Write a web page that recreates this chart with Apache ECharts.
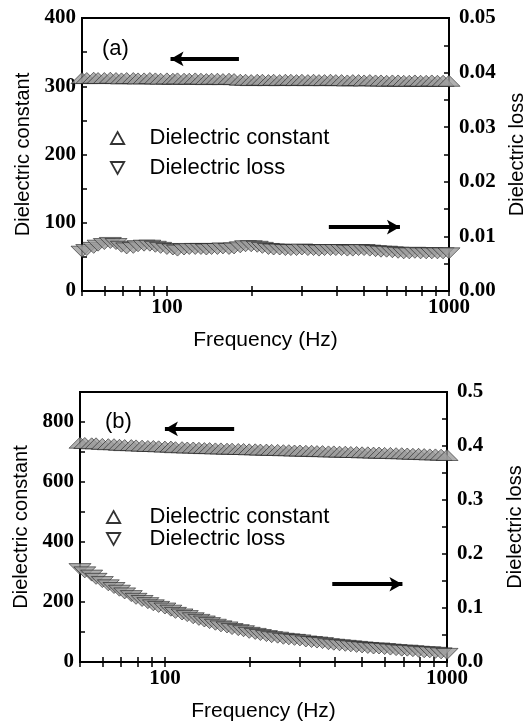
<!DOCTYPE html>
<html><head><meta charset="utf-8">
<script src="https://cdn.jsdelivr.net/npm/echarts@6/dist/echarts.min.js"></script>
<style>html,body{margin:0;padding:0;background:#fff}#c{width:526px;height:721px}</style>
</head><body><div id="c"></div>
<script>
const freq = [50,52,55,57,60,63,66,69,72,76,79,83,87,91,95,100,105,109,115,120,126,132,138,144,151,158,166,173,182,190,199,209,218,229,239,251,263,275,288,301,316,331,346,362,380,397,416,436,456,478,500,524,549,574,601,630,660,691,723,757,793,830,869,910,953,1000];
const epsA = [312,312,312.5,312,312,312.5,312,311.5,312,312,311.5,
  311.5,312,311.5,311,311.5,311,311.5,311,311,311.5,311,310.5,311,311,310.5,311,310.5,
  309.5,309.5,309,309.5,309.5,309,309.5,309,309.5,309.5,309,309.5,309,309.5,309,309,309.5,309,
  309,308.5,309,309,308.5,309,308.5,308.5,308,308.5,308.5,308,308,308.5,308,308,308.5,308,308,308];
const lossA = [0.0072,0.0075,0.0079,0.0083,0.0086,0.0088,0.0086,0.0081,0.0078,0.0079,0.0082,0.0083,0.0083,0.0081,0.0079,0.0077,
  0.0076,0.0074,0.0076,0.0077,0.0077,0.0077,0.0076,0.0077,0.0077,0.0078,0.0077,0.0078,0.0080,0.0082,0.0082,0.0081,0.0079,0.0077,
  0.0076,0.0076,0.0075,0.0075,0.0075,0.0076,0.0075,0.0075,0.0074,0.0075,0.0075,0.0075,0.0075,0.0074,0.0074,0.0075,0.0075,0.0074,
  0.0073,0.0072,0.0072,0.0071,0.0070,0.0069,0.0069,0.0070,0.0069,0.0069,0.0069,0.0069,0.0069,0.0069];
const epsB = [731,730,729,729,727,726,726,724,723,723,722,721,720,720,719,718,718,716,716,715,715,714,713,713,712,712,711,711,
  710,710,709,709,708,708,707,707,706,706,705,705,704,704,703,703,702,702,701,701,700,700,699,699,698,698,697,697,696,696,
  695,694,694,693,692,692,691,690];
const lossB = [0.172,0.166,0.160,0.154,0.148,0.142,0.137,0.132,0.127,0.122,0.117,0.113,0.109,0.105,0.102,0.099,
  0.095,0.091,0.088,0.085,0.081,0.078,0.075,0.072,0.069,0.066,0.064,0.061,0.059,0.057,0.054,
  0.052,0.050,0.048,0.046,0.045,0.043,0.042,0.041,0.040,
  0.038,0.037,0.036,0.035,0.033,0.032,0.031,0.030,0.029,0.028,0.027,0.026,0.025,0.025,0.024,0.023,0.022,0.021,0.021,0.020,0.019,0.018,0.018,0.017,0.016,0.015];
const xLabelValues = [100, 1000];
const xTickValues = [50,60,70,80,90,100,200,300,400,500,600,700,800,900,1000];
const seriesNames = ['Dielectric constant', 'Dielectric loss'];
const xName = 'Frequency (Hz)';
const yLeftName = 'Dielectric constant';
const yRightName = 'Dielectric loss';
const panelLabels = ['(a)', '(b)'];

const SERIF = '"Liberation Serif", "Times New Roman", serif';
const SANS = '"Liberation Sans", Arial, sans-serif';
const DOWN = 'path://M0,0L10,0L5,9Z';
const UP = 'path://M5,0L10,9L0,9Z';

function pairs(vals){ return freq.map((f,i)=>[f, vals[i]]); }

function xAxisDef(grid, top){
  return {
    type:'log', logBase:10, gridIndex:grid, min:50, max:1000, position: top?'top':'bottom',
    name: top? '' : xName, nameLocation:'middle', nameGap:39,
    nameTextStyle:{fontFamily:SANS, fontSize:21, color:'#000'},
    axisLine:{show:true, lineStyle:{color:'#000', width:2}},
    axisTick:{show:true, inside:true, length:5, customValues:xTickValues, lineStyle:{color:'#000', width:1.5}},
    minorTick:{show:false},
    axisLabel:{show:!top, customValues:xLabelValues, margin:6, fontFamily:SERIF, fontSize:21, fontWeight:'bold', color:'#000',
      formatter:v=>String(Math.round(v))},
    splitLine:{show:false}
  };
}
function yAxisDef(grid, right, max, interval, labelEvery, decimals, name){
  return {
    type:'value', gridIndex:grid, position: right?'right':'left', min:0, max:max, interval:interval,
    name:name, nameLocation:'middle', nameRotate:90, nameGap: right?58:48,
    nameTextStyle:{fontFamily:SANS, fontSize:20, color:'#000'},
    axisLine:{show:true, lineStyle:{color:'#000', width:2}},
    axisTick:{show:true, inside:true, length:5, lineStyle:{color:'#000', width:1.5}},
    axisLabel:{margin: right?10:6, fontFamily:SERIF, fontSize:21, fontWeight:'bold', color:'#000',
      formatter:v=>{ const k=Math.round(v/interval); const m=Math.round(labelEvery/interval); return (k % m===0)? v.toFixed(decimals) : ''; }},
    splitLine:{show:false}
  };
}
function legendDef(left, top, gap, textPad){
  return {
    orient:'vertical', left:left, top:top, padding:0, itemWidth:14, itemHeight:12, itemGap:gap,
    itemStyle:{color:'#fff', borderColor:'#000', borderWidth:1.8},
    formatter:name=>'{g|}'+name,
    textStyle:{fontFamily:SANS, fontSize:22, color:'#000', lineHeight:22,
      rich:{g:{width:textPad, height:10}}},
    data:[{name:seriesNames[0], icon:UP},{name:seriesNames[1], icon:DOWN}]
  };
}
const markStyle = {color:'#9c9c9c', borderColor:'#1a1a1a', borderWidth:0.7};
const SYM = [22,11];
function arrow(x1,x2,y){
  return {silent:true, symbol:['none','arrow'], symbolSize:[11,13], label:{show:false},
    lineStyle:{color:'#000', width:4, type:'solid'},
    data:[[{coord:[x1,y]},{coord:[x2,y]}]]};
}

const option = {
  animation:false, backgroundColor:'#fff',
  grid:[
    {left:82, top:18, width:367, height:273, show:true, borderColor:'#000', borderWidth:2, backgroundColor:'transparent', containLabel:false, outerBoundsMode:'none'},
    {left:80, top:392, width:367, height:270, show:true, borderColor:'#000', borderWidth:2, backgroundColor:'transparent', containLabel:false, outerBoundsMode:'none'}
  ],
  xAxis:[xAxisDef(0,false), xAxisDef(0,true), xAxisDef(1,false), xAxisDef(1,true)],
  yAxis:[
    yAxisDef(0,false,400,50,100,0,yLeftName),
    yAxisDef(0,true,0.05,0.005,0.01,2,yRightName),
    yAxisDef(1,false,900,100,200,0,yLeftName),
    yAxisDef(1,true,0.5,0.05,0.1,1,yRightName)
  ],
  legend:[legendDef(110,127,8,20), legendDef(106,506,0,24)],
  graphic:[
    {type:'text', left:102, top:38, style:{text:panelLabels[0], font:'22px '+SANS, fill:'#000'}},
    {type:'text', left:105, top:411, style:{text:panelLabels[1], font:'22px '+SANS, fill:'#000'}}
  ],
  series:[
    {name:seriesNames[0], type:'scatter', xAxisIndex:0, yAxisIndex:0, symbol:UP, symbolSize:SYM,
      itemStyle:markStyle, data:pairs(epsA), markLine:arrow(180,103,340)},
    {name:seriesNames[1], type:'scatter', xAxisIndex:0, yAxisIndex:1, symbol:DOWN, symbolSize:SYM,
      itemStyle:markStyle, data:pairs(lossA), markLine:arrow(375,670,0.0117)},
    {name:seriesNames[0], type:'scatter', xAxisIndex:2, yAxisIndex:2, symbol:UP, symbolSize:SYM,
      itemStyle:markStyle, data:pairs(epsB), markLine:arrow(176,100,777)},
    {name:seriesNames[1], type:'scatter', xAxisIndex:2, yAxisIndex:3, symbol:DOWN, symbolSize:SYM,
      itemStyle:markStyle, data:pairs(lossB), markLine:arrow(392,695,0.144)}
  ]
};
const chart = echarts.init(document.getElementById('c'), null, {renderer:'canvas'});
chart.setOption(option);
</script></body></html>
